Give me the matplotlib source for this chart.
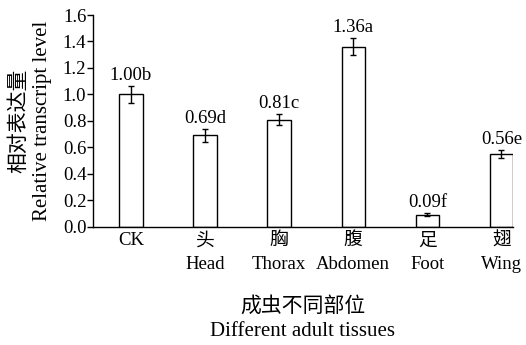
import matplotlib
matplotlib.use("Agg")
import matplotlib.pyplot as plt
import numpy as np

# data
tissues_cn = ["", "头", "胸", "腹", "足", "翅"]
tissues_en = ["CK", "Head", "Thorax", "Abdomen", "Foot", "Wing"]
levels = [1.00, 0.69, 0.81, 1.36, 0.09, 0.55]
errors = [0.065, 0.05, 0.04, 0.065, 0.01, 0.03]
value_labels = ["1.00b", "0.69d", "0.81c", "1.36a", "0.09f", "0.56e"]
yticks = [0.0, 0.2, 0.4, 0.6, 0.8, 1.0, 1.2, 1.4, 1.6]

fonts = ["Liberation Serif", "Noto Sans CJK SC"]
plt.rcParams["font.family"] = fonts
plt.rcParams["axes.linewidth"] = 1.0

fig = plt.figure(figsize=(5.26, 3.45), dpi=100)
ax = fig.add_axes([0.1774, 0.3429, 0.798, 0.6136])

x = np.arange(len(levels))
ax.bar(x, levels, width=0.314, color="white", edgecolor="black", linewidth=1.0,
       yerr=errors, capsize=2.5, error_kw=dict(elinewidth=1.0, capthick=1.0))

for xi, v, e, lab in zip(x, levels, errors, value_labels):
    ax.annotate(lab, (xi, v + e), xytext=(0, 1.5), textcoords="offset points",
                ha="center", va="bottom", fontsize=13.5)

# tick labels: chinese on top, english below (CK only one line)
ticklabels = []
for cn, en in zip(tissues_cn, tissues_en):
    ticklabels.append(en if cn == "" else cn + "\n" + en)
ax.set_xticks(x)
ax.set_xticklabels(ticklabels, fontsize=13.5, linespacing=1.5)
ax.tick_params(axis="x", length=0, pad=4)

ax.set_yticks(yticks)
ax.set_yticklabels([f"{t:.1f}" for t in yticks], fontsize=13.5)
ax.tick_params(axis="y", direction="out", length=4, width=1.0, pad=1)

ax.set_xlim(-0.507, 5.157)
ax.set_ylim(0, 1.6)
ax.spines["top"].set_visible(False)
ax.spines["right"].set_visible(False)

fig.text(0.058, 0.649, "相对表达量\nRelative transcript level", rotation=90,
         ha="center", va="center", fontsize=15, linespacing=1.3)
fig.text(0.576, 0.075, "成虫不同部位\nDifferent adult tissues", ha="center", va="center",
         fontsize=15, linespacing=1.4)

fig.savefig("out.png", dpi=100)
